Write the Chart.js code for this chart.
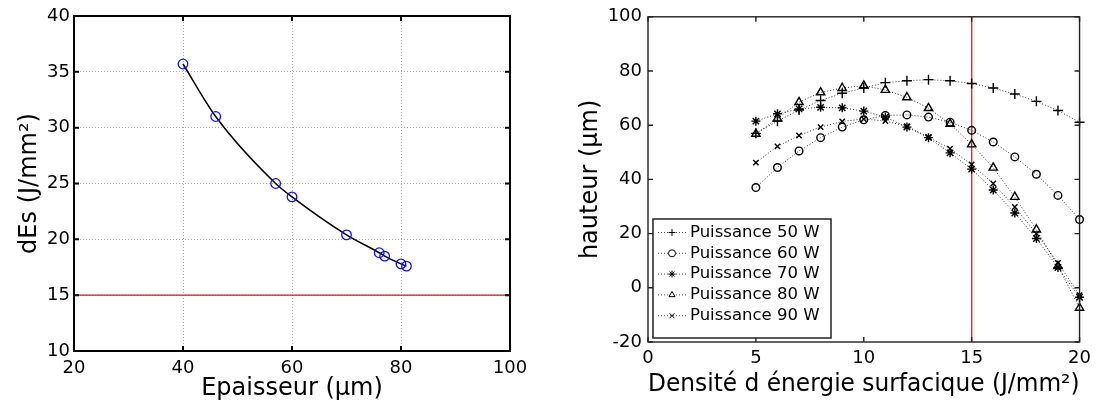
<!DOCTYPE html>
<html>
<head>
<meta charset="utf-8">
<script src="https://cdn.jsdelivr.net/npm/chart.js@4.4.0/dist/chart.umd.min.js"></script>
<style>
html, body { margin: 0; padding: 0; background: #fff; }
#left { position: absolute; left: 0; top: 0; width: 560px; height: 407px; }
#right { position: absolute; left: 560px; top: 0; width: 537px; height: 407px; }
</style>
</head>
<body>
<div id="left"><canvas id="thickChart" width="560" height="407"></canvas></div>
<div id="right"><canvas id="heightChart" width="537" height="407"></canvas></div>
<script>
// LEFT PANEL - dEs vs thickness
const thickness = [40, 46, 57, 60, 70, 76, 77, 80, 81];
const energyDensity = [35.7, 31.0, 25.0, 23.8, 20.4, 18.8, 18.5, 17.8, 17.6];
const energyLimit = 15;
const thickTicksX = [20, 40, 60, 80, 100];
const thickTicksY = [10, 15, 20, 25, 30, 35, 40];

// RIGHT PANEL - height vs surface energy density
const densities = [5, 6, 7, 8, 9, 10, 11, 12, 13, 14, 15, 16, 17, 18, 19, 20];
const power50 = [57.0, 61.5, 65.6, 69.1, 71.8, 73.7, 75.7, 76.4, 76.8, 76.4, 75.4, 73.7, 71.5, 68.8, 65.4, 61.1];
const power60 = [37.0, 44.4, 50.5, 55.4, 59.3, 62.0, 63.6, 63.8, 63.0, 61.1, 58.1, 53.8, 48.3, 41.9, 34.1, 25.2];
const power70 = [61.5, 64.2, 66.0, 66.6, 66.4, 65.2, 63.0, 59.3, 55.4, 49.8, 43.8, 36.1, 27.6, 18.2, 7.5, -3.5];
const power80 = [56.8, 62.5, 68.5, 72.1, 73.7, 74.6, 73.0, 70.3, 66.3, 60.5, 52.9, 44.3, 33.5, 21.5, 8.0, -7.4];
const power90 = [46.2, 52.2, 56.2, 59.3, 61.4, 62.3, 61.5, 59.6, 55.6, 51.3, 45.5, 38.5, 29.8, 20.0, 9.2, -2.7];
const powerLabels = ["Puissance 50 W", "Puissance 60 W", "Puissance 70 W", "Puissance 80 W", "Puissance 90 W"];
const densityLimit = 15;
const heightTicksX = [0, 5, 10, 15, 20];
const heightTicksY = [-20, 0, 20, 40, 60, 80, 100];

Chart.defaults.font.family = "'DejaVu Sans', sans-serif";
Chart.defaults.color = "#000";

const pairs = (xs, ys) => xs.map((x, i) => ({ x: x, y: ys[i] }));
const fixedTicks = list => scale => { scale.ticks = list.map(v => ({ value: v })); };

// box around the plot area with inward tick marks, matlab style
const framePlugin = {
    id: "frame",
    afterDatasetsDraw(chart, args, opts) {
        const { ctx, chartArea: a, scales } = chart;
        ctx.save();
        ctx.strokeStyle = opts.color;
        ctx.lineWidth = opts.width;
        ctx.strokeRect(a.left, a.top, a.right - a.left, a.bottom - a.top);
        ctx.beginPath();
        scales.x.ticks.forEach(t => {
            const px = scales.x.getPixelForValue(t.value);
            ctx.moveTo(px, a.bottom); ctx.lineTo(px, a.bottom - 5);
            ctx.moveTo(px, a.top); ctx.lineTo(px, a.top + 5);
        });
        scales.y.ticks.forEach(t => {
            const py = scales.y.getPixelForValue(t.value);
            ctx.moveTo(a.left, py); ctx.lineTo(a.left + 5, py);
            ctx.moveTo(a.right, py); ctx.lineTo(a.right - 5, py);
        });
        ctx.stroke();
        ctx.restore();
    }
};

// boxed legend inside the lower left corner
const boxLegend = {
    id: "boxLegend",
    afterDraw(chart) {
        const { ctx, chartArea: a } = chart;
        const x0 = a.left + 5, w = 178, h = 119;
        const y0 = a.bottom - 4 - h;
        ctx.save();
        ctx.fillStyle = "#fff";
        ctx.fillRect(x0, y0, w, h);
        ctx.strokeStyle = "#222";
        ctx.lineWidth = 1.5;
        ctx.strokeRect(x0, y0, w, h);
        powerLabels.forEach((label, i) => {
            const ds = chart.data.datasets[i];
            const y = y0 + 13.5 + i * 20.8;
            ctx.strokeStyle = "#555";
            ctx.lineWidth = 1;
            ctx.setLineDash([1, 2]);
            ctx.beginPath();
            ctx.moveTo(x0 + 5, y);
            ctx.lineTo(x0 + 34, y);
            ctx.stroke();
            ctx.setLineDash([]);
            ctx.strokeStyle = "#000";
            ctx.fillStyle = "#fff";
            Chart.helpers.drawPoint(ctx, { pointStyle: ds.pointStyle, radius: 3.5, borderWidth: 1.3, rotation: 0 }, x0 + 19, y);
            ctx.fillStyle = "#000";
            ctx.font = "16.5px 'DejaVu Sans'";
            ctx.textBaseline = "middle";
            ctx.textAlign = "left";
            ctx.fillText(label, x0 + 37, y);
        });
        ctx.restore();
    }
};

// LEFT CHART
new Chart(document.getElementById("thickChart"), {
    type: "scatter",
    data: {
        datasets: [
            {
                data: pairs(thickness, energyDensity),
                showLine: true,
                borderColor: "#000",
                borderWidth: 1.5,
                cubicInterpolationMode: "monotone",
                pointStyle: "circle",
                pointRadius: 4.8,
                pointBorderColor: "#1010ff",
                pointBackgroundColor: "rgba(0,0,0,0)",
                pointBorderWidth: 1.3
            },
            {
                data: pairs([thickTicksX[0], thickTicksX[thickTicksX.length - 1]], [energyLimit, energyLimit]),
                showLine: true,
                borderColor: "#e01010",
                borderWidth: 1.4,
                pointRadius: 0
            }
        ]
    },
    options: {
        responsive: false,
        animation: false,
        events: [],
        layout: { padding: { top: 16, right: 50, left: 0, bottom: 0 } },
        plugins: {
            legend: { display: false },
            tooltip: { enabled: false },
            frame: { color: "#000", width: 2 }
        },
        scales: {
            x: {
                type: "linear",
                min: 20,
                max: 100,
                afterBuildTicks: fixedTicks(thickTicksX),
                afterFit: s => { s.height = 56; },
                ticks: { font: { size: 18 }, padding: 7, maxRotation: 0, autoSkip: false },
                grid: { color: "#aaa", drawTicks: false },
                border: { display: false, dash: [1, 2] },
                title: { display: true, text: "Epaisseur (µm)", font: { size: 24 }, padding: { top: 0, bottom: 4 } }
            },
            y: {
                min: 10,
                max: 40,
                afterBuildTicks: fixedTicks(thickTicksY),
                afterFit: s => { s.width = 74; },
                ticks: { font: { size: 18 }, padding: 4, autoSkip: false },
                grid: { color: "#aaa", drawTicks: false },
                border: { display: false, dash: [1, 2] },
                title: { display: true, text: "dEs (J/mm²)", font: { size: 24 }, padding: { top: 15, bottom: 0 } }
            }
        }
    },
    plugins: [framePlugin]
});

// RIGHT CHART
const seriesStyle = (values, style, radius) => ({
    data: pairs(densities, values),
    showLine: true,
    borderColor: "#333",
    borderWidth: 1,
    borderDash: [1, 2],
    pointStyle: style,
    pointRadius: radius,
    pointBorderColor: "#000",
    pointBackgroundColor: "rgba(0,0,0,0)",
    pointBorderWidth: 1.4,
    clip: false
});

new Chart(document.getElementById("heightChart"), {
    type: "scatter",
    data: {
        datasets: [
            seriesStyle(power50, "cross", 5),
            seriesStyle(power60, "circle", 3.8),
            seriesStyle(power70, "star", 4.5),
            seriesStyle(power80, "triangle", 4.8),
            seriesStyle(power90, "crossRot", 3.8),
            {
                data: pairs([densityLimit, densityLimit], [heightTicksY[0], heightTicksY[heightTicksY.length - 1]]),
                showLine: true,
                borderColor: "#e03030",
                borderWidth: 1.5,
                pointRadius: 0
            }
        ]
    },
    options: {
        responsive: false,
        animation: false,
        events: [],
        layout: { padding: { top: 16, right: 14, left: 0, bottom: 0 } },
        plugins: {
            legend: { display: false },
            tooltip: { enabled: false },
            frame: { color: "#222", width: 1.4 }
        },
        scales: {
            x: {
                type: "linear",
                min: 0,
                max: 20,
                afterBuildTicks: fixedTicks(heightTicksX),
                afterFit: s => { s.height = 65; },
                ticks: { font: { size: 18 }, padding: 6, maxRotation: 0, autoSkip: false },
                grid: { display: false, drawTicks: false },
                border: { display: false },
                title: { display: true, text: "Densité d énergie surfacique (J/mm²)", font: { size: 24 }, padding: { top: 0, bottom: 8 } }
            },
            y: {
                min: -20,
                max: 100,
                afterBuildTicks: fixedTicks(heightTicksY),
                afterFit: s => { s.width = 88; },
                ticks: { font: { size: 18 }, padding: 6, autoSkip: false },
                grid: { display: false, drawTicks: false },
                border: { display: false },
                title: { display: true, text: "hauteur (µm)", font: { size: 24 }, padding: { top: 16, bottom: 0 } }
            }
        }
    },
    plugins: [framePlugin, boxLegend]
});
</script>
</body>
</html>
